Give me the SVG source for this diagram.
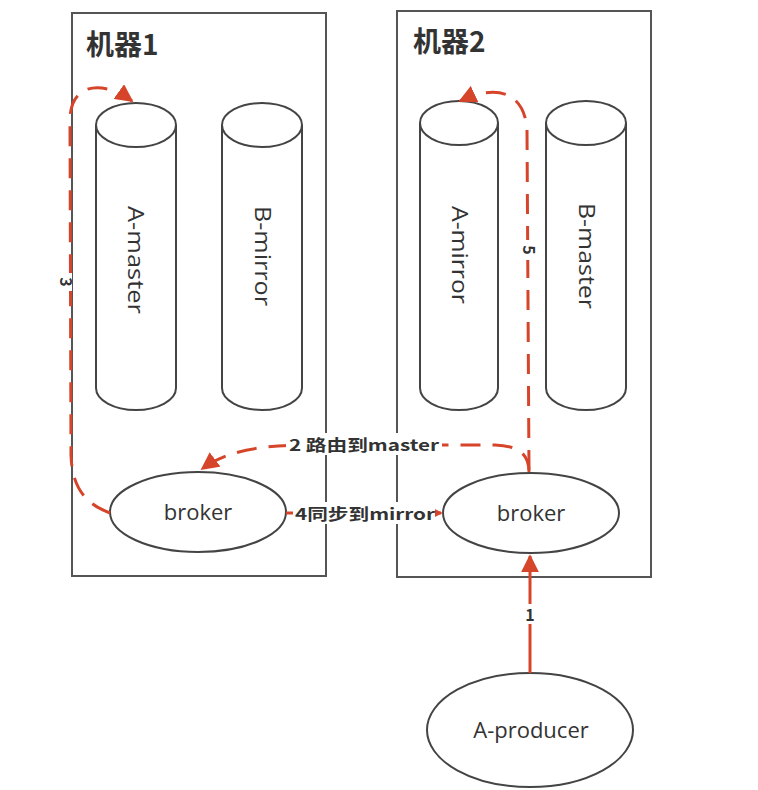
<svg xmlns="http://www.w3.org/2000/svg" width="758" height="790" viewBox="0 0 758 790">
<style>
.box{fill:none;stroke:#555;stroke-width:2}
.shape{fill:#fff;stroke:#444;stroke-width:2}
.lbl{font-family:"Open Sans","Liberation Sans","Noto Sans CJK SC",sans-serif;fill:#333}
.big{font-family:"Noto Sans CJK SC","Liberation Sans",sans-serif;font-size:28px;font-weight:bold;fill:#333}
.edge{fill:none;stroke:#d6452a;stroke-width:3}
.dash{stroke-dasharray:20 12}
.elbl{font-family:"Noto Sans CJK SC","Liberation Sans",sans-serif;font-size:16px;font-weight:bold;fill:#333}
</style>
<defs>
<marker id="ah" viewBox="0 0 10 10" refX="9" refY="5" markerWidth="6" markerHeight="6" orient="auto" markerUnits="strokeWidth">
<path d="M0,0 L10,5 L0,10 z" fill="#d6452a"/>
</marker>
</defs>
<rect width="758" height="790" fill="#fff"/>
<g id="machine1">
<rect class="box" x="72" y="13" width="254" height="563"/>
<text class="big" x="86" y="55">机器1</text>
</g>
<g id="machine2">
<rect class="box" x="397" y="11" width="254" height="566"/>
<text class="big" x="413" y="52">机器2</text>
</g>
<g id="a-master">
<path class="shape" d="M96,125 L96,388 A40,22 0 0 0 176,388 L176,125 A40,22 0 0 0 96,125 Z"/>
<path class="shape" d="M96,125 A40,22 0 0 0 176,125"/>
<text class="lbl" font-size="21" text-anchor="middle" textLength="108" lengthAdjust="spacingAndGlyphs" transform="translate(128,260) rotate(90)">A-master</text>
</g>
<g id="b-mirror">
<path class="shape" d="M222,125 L222,388 A40,22 0 0 0 302,388 L302,125 A40,22 0 0 0 222,125 Z"/>
<path class="shape" d="M222,125 A40,22 0 0 0 302,125"/>
<text class="lbl" font-size="21" text-anchor="middle" textLength="100" lengthAdjust="spacingAndGlyphs" transform="translate(255,256) rotate(90)">B-mirror</text>
</g>
<g id="a-mirror">
<path class="shape" d="M420,123 L420,388 A39,22 0 0 0 498,388 L498,123 A39,22 0 0 0 420,123 Z"/>
<path class="shape" d="M420,123 A39,22 0 0 0 498,123"/>
<text class="lbl" font-size="21" text-anchor="middle" textLength="98" lengthAdjust="spacingAndGlyphs" transform="translate(452,255) rotate(90)">A-mirror</text>
</g>
<g id="b-master">
<path class="shape" d="M546,123 L546,388 A40,22 0 0 0 626,388 L626,123 A40,22 0 0 0 546,123 Z"/>
<path class="shape" d="M546,123 A40,22 0 0 0 626,123"/>
<text class="lbl" font-size="21" text-anchor="middle" textLength="106" lengthAdjust="spacingAndGlyphs" transform="translate(579,256) rotate(90)">B-master</text>
</g>
<g id="broker1">
<ellipse class="shape" cx="198" cy="512" rx="88" ry="40"/>
<text class="lbl" font-size="22" x="198" y="520" text-anchor="middle">broker</text>
</g>
<g id="broker2">
<ellipse class="shape" cx="531" cy="513" rx="88" ry="40"/>
<text class="lbl" font-size="22" x="531" y="521" text-anchor="middle">broker</text>
</g>
<g id="producer">
<ellipse class="shape" cx="530" cy="730" rx="103" ry="57"/>
<text class="lbl" font-size="22" x="531" y="738" text-anchor="middle">A-producer</text>
</g>
<g id="connectors">
<path class="edge" d="M530,673 L530,556" marker-end="url(#ah)"/>
<rect x="522" y="604" width="16" height="20" fill="#fff"/>
<text class="elbl" x="530" y="621" text-anchor="middle">1</text>
<path class="edge dash" d="M529,472 C529,455 520,446 495,445 L300,445 C255,446 225,452 202,469" marker-end="url(#ah)"/>
<rect x="286" y="433" width="156" height="22" fill="#fff"/>
<text class="elbl" x="289" y="451" textLength="150" lengthAdjust="spacingAndGlyphs">2 路由到master</text>
<path class="edge" d="M286,513 L441,513" marker-end="url(#ah)"/>
<rect x="293" y="502" width="142" height="22" fill="#fff"/>
<text class="elbl" x="295" y="520" textLength="140" lengthAdjust="spacingAndGlyphs">4同步到mirror</text>
<path class="edge dash" d="M110,513 C88,505 72,490 71,455 L70,120 C70,85 100,78 132,101" marker-end="url(#ah)"/>
<rect x="58" y="273" width="14" height="18" fill="#fff"/>
<text class="elbl" font-size="14" text-anchor="middle" transform="translate(60,282) rotate(90)">3</text>
<path class="edge dash" d="M529,470 L527,130 C525,95 500,82 460,101" marker-end="url(#ah)"/>
<rect x="519" y="240" width="16" height="20" fill="#fff"/>
<text class="elbl" font-size="14" text-anchor="middle" transform="translate(523,250) rotate(90)">5</text>
</g>
</svg>
